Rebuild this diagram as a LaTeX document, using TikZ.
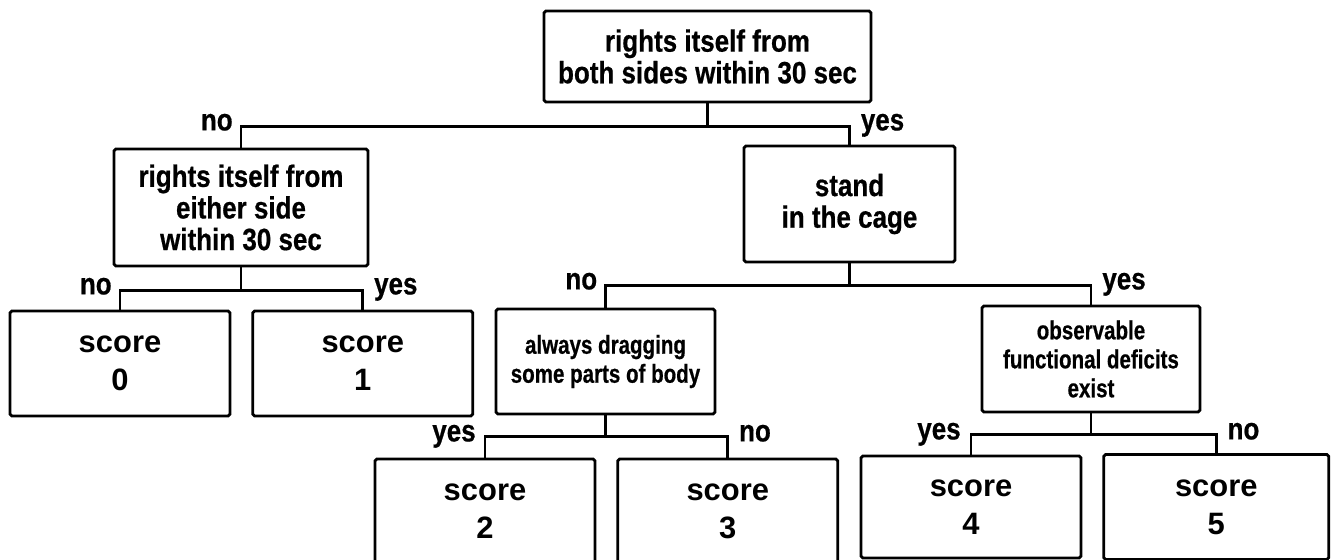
\documentclass[tikz,border=0pt]{standalone}
\usepackage{fontspec}
\setmainfont{Liberation Sans}
\newfontfamily\condfont{Liberation Sans}[FakeStretch=0.845, BoldFeatures={FakeBold=0.6}]
\newfontfamily\narrowfont{Liberation Sans}[FakeStretch=0.79, BoldFeatures={FakeBold=0.6}]
\usetikzlibrary{positioning, calc}

\begin{document}
\begin{tikzpicture}[
    x=0.02cm, y=-0.02cm,
    % Caixas de pergunta (texto estreito)
    question/.style={rectangle, draw, line width=1.6pt, rounded corners=1pt, align=center, inner sep=2pt, font=\condfont\bfseries\fontsize{17.5}{18}\selectfont},
    % Perguntas com texto menor
    small/.style={question, font=\narrowfont\bfseries\fontsize{14.8}{16.5}\selectfont},
    % Caixas de resultado
    score/.style={rectangle, draw, line width=1.6pt, rounded corners=1pt, align=center, minimum width=4.4cm, minimum height=2.1cm, font=\bfseries\fontsize{17.6}{21.5}\selectfont},
    lbl/.style={inner sep=0pt, font=\condfont\bfseries\fontsize{17.5}{18}\selectfont},
    link/.style={draw, line width=1.6pt}
]
\clip (0,0) rectangle (1333,560);

% 1. Pergunta inicial
\node[question, minimum width=6.54cm, minimum height=1.82cm] (top) at (707.5,56.5) {rights itself from\\both sides within 30 sec};

% 2. Segundo nivel
\node[question, minimum width=5.08cm, minimum height=2.34cm] (either) at (241,207.5) {rights itself from\\either side\\within 30 sec};
\node[question, minimum width=4.22cm, minimum height=2.32cm] (stand) at (849.5,204) {stand\\in the cage};

% 3. Terceiro nivel
\node[score] (s0) at (120,363.5) {score\\0};
\node[score, right=0.4cm of s0] (s1) {score\\1};
\node[small, minimum width=4.38cm, minimum height=2.1cm] (drag) at (605.5,361.5) {always dragging\\some parts of body};
\node[small, minimum width=4.36cm, minimum height=2.12cm] (deficit) at (1091,359) {observable\\functional deficits\\exist};

% 4. Quarto nivel (cortado embaixo)
\node[score] (s2) at (485,511.5) {score\\2};
\node[score, right=0.4cm of s2] (s3) {score\\3};
\node[score, minimum height=2.04cm] (s4) at (971,507) {score\\4};
\node[score, minimum width=4.5cm, right=0.4cm of s4] (s5) {score\\5};

% 5. Ligacoes
\draw[link] (top.south) -- ++(0,23) coordinate (j1) -| (either.north);
\draw[link] (j1) -| (stand.north);
\draw[link] (either.south) -- ++(0,23) coordinate (j2) -| (s0.north);
\draw[link] (j2) -| (s1.north);
\draw[link] (stand.south) -- ++(0,22) coordinate (j3) -| (drag.north);
\draw[link] (j3) -| (deficit.north);
\draw[link] (drag.south) -- ++(0,21) coordinate (j4) -| (s2.north);
\draw[link] (j4) -| (s3.north);
\draw[link] (deficit.south) -- ++(0,21) coordinate (j5) -| (s4.north);
\draw[link] (j5) -| (s5.north);

% 6. Rotulos sim / nao
\node[lbl, anchor=base east] (n1) at ($(j1 -| either.north)+(-8,4)$) {no};
\node[lbl, anchor=base west] (y1) at ($(j1 -| stand.north)+(11,4)$) {yes};
\node[lbl, anchor=base east] (n2) at ($(j2 -| s0.north)+(-8,4)$) {no};
\node[lbl, anchor=base west] (y2) at ($(j2 -| s1.north)+(11,4)$) {yes};
\node[lbl, anchor=base east] (n3) at ($(j3 -| drag.north)+(-8,4)$) {no};
\node[lbl, anchor=base west] (y3) at ($(j3 -| deficit.north)+(11,4)$) {yes};
\node[lbl, anchor=base east] (y4) at ($(j4 -| s2.north)+(-9,5)$) {yes};
\node[lbl, anchor=base west] (n4) at ($(j4 -| s3.north)+(11,5)$) {no};
\node[lbl, anchor=base east] (y5) at ($(j5 -| s4.north)+(-10,5)$) {yes};
\node[lbl, anchor=base west] (n5) at ($(j5 -| s5.north)+(11,5)$) {no};

\end{tikzpicture}
\end{document}
